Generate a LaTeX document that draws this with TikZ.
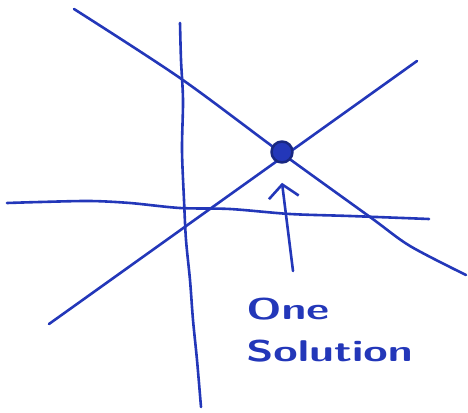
\documentclass[tikz,border=0pt]{standalone}
\usepackage{tikz}
\usepackage{xcolor}
\usetikzlibrary{arrows.meta,positioning}
\definecolor{pen}{RGB}{35,55,185}

\begin{document}
\begin{tikzpicture}[x=1pt,y=-1pt,line cap=round,line join=round,
  ink/.style={draw=pen,line width=2.6pt},
  dot/.style={shape=circle,draw=pen!70!black,fill=pen,line width=2.5pt,minimum size=21pt,inner sep=0pt}]
\useasboundingbox (0,0) rectangle (468,412);
% axes
\draw[ink] plot[smooth] coordinates {(180,23) (181,60) (183,100) (182,150) (184,200) (186,240) (190,280) (193,320) (197,360) (201,407)};
\draw[ink] plot[smooth] coordinates {(7,203) (40,202) (90,201) (130,203) (180,208) (230,209) (290,214) (350,216) (429,219)};
% the two lines
\draw[ink] plot[smooth] coordinates {(74,9) (180,78) (280,152) (370,217) (410,246) (466,275)};
\draw[ink] (49,324)--(417,61);
% intersection
\node[dot] (sol) at (282,152) {};
\coordinate (tail) at (293,271);
\draw[ink,-{Straight Barb[length=13pt,width=30pt]}] (tail) -- ([yshift=-19pt]sol.south);
\node[text=pen,font=\sffamily\bfseries\fontsize{30}{36}\selectfont,align=left,anchor=north west,inner sep=0pt,xscale=1.48] (lbl) at (246,298) {One\\[6pt]Solution};
\end{tikzpicture}
\end{document}
